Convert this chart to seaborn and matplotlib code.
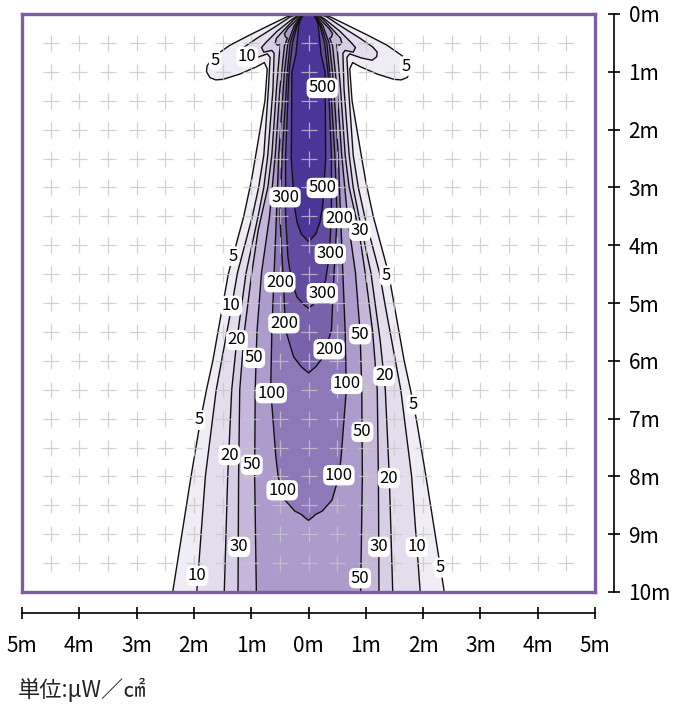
import numpy as np
import matplotlib
matplotlib.use('Agg')
import matplotlib.pyplot as plt
import seaborn as sns

# niveles de irradiancia (uW/cm2) y su color de relleno
levels = [5, 10, 20, 30, 50, 100, 200, 300, 500]
fill_colors = ['#efecf5', '#e3ddee', '#d8cfe6', '#c5b6da', '#ad9bcb',
               '#8e78b7', '#7a62ab', '#634ba0', '#4b3596']

# mitad derecha de cada isolinea: profundidad (m) y distancia al centro (m)
depth_5 = [0.0, 0.05, 0.16, 0.36, 0.54, 0.74, 0.90, 1.00, 1.10, 1.14, 1.13, 1.04, 0.91, 0.84, 0.95,
           1.5, 2.44, 2.9, 3.5, 4.2, 4.5, 5.0, 6.0, 6.5, 7.0, 8.0, 9.0, 10.0]
dist_5 = [0.22, 0.38, 0.61, 1.02, 1.37, 1.66, 1.77, 1.78, 1.72, 1.62, 1.49, 1.20, 0.90, 0.77, 0.72,
          0.76, 0.92, 1.00, 1.13, 1.32, 1.40, 1.49, 1.67, 1.78, 1.88, 2.05, 2.21, 2.37]

depth_10 = [0.0, 0.05, 0.22, 0.42, 0.57, 0.66, 0.74, 0.80, 0.76, 0.69, 0.75,
            1.3, 2.44, 3.0, 3.5, 4.48, 5.05, 6.5, 8.0, 9.2, 10.0]
dist_10 = [0.18, 0.32, 0.58, 0.90, 1.12, 1.20, 1.19, 1.11, 0.92, 0.72, 0.67,
           0.70, 0.78, 0.87, 0.98, 1.24, 1.34, 1.61, 1.80, 1.89, 1.95]

depth_20 = [0.0, 0.1, 0.3, 0.5, 0.58, 0.66, 0.63, 0.68,
            1.3, 2.44, 3.0, 3.5, 4.48, 5.64, 6.5, 8.0, 10.0]
dist_20 = [0.15, 0.30, 0.55, 0.75, 0.82, 0.78, 0.64, 0.60,
           0.62, 0.71, 0.78, 0.88, 1.09, 1.25, 1.34, 1.41, 1.47]

depth_30 = [0.0, 0.1, 0.3, 0.42, 0.50, 0.54, 0.52, 0.60,
            1.3, 2.44, 3.0, 3.75, 4.48, 5.5, 6.5, 8.0, 10.0]
dist_30 = [0.13, 0.26, 0.45, 0.56, 0.58, 0.54, 0.49, 0.50,
           0.56, 0.64, 0.71, 0.88, 0.99, 1.12, 1.20, 1.22, 1.23]

depth_50 = [0.0, 0.1, 0.25, 0.34, 0.40, 0.42, 0.55,
            1.3, 2.44, 3.5, 4.48, 5.5, 6.5, 8.0, 10.0]
dist_50 = [0.11, 0.21, 0.36, 0.42, 0.40, 0.37, 0.42,
           0.50, 0.58, 0.68, 0.82, 0.90, 0.93, 0.94, 0.91]

depth_100 = [0.0, 0.2, 0.5, 1.0, 2.44, 3.5, 4.48, 5.5, 6.5, 7.66, 8.0, 8.41, 8.6, 8.66, 8.70, 8.76]
dist_100 = [0.10, 0.25, 0.36, 0.42, 0.52, 0.56, 0.60, 0.64, 0.66, 0.57, 0.53, 0.41, 0.24, 0.12, 0.08, 0.0]

depth_200 = [0.0, 0.2, 0.5, 1.0, 2.44, 3.5, 4.6, 5.47, 5.93, 6.1, 6.21]
dist_200 = [0.09, 0.22, 0.32, 0.37, 0.46, 0.50, 0.44, 0.40, 0.26, 0.13, 0.0]

depth_300 = [0.0, 0.2, 0.5, 1.0, 2.44, 3.5, 4.2, 4.6, 4.9, 5.03, 5.09]
dist_300 = [0.08, 0.20, 0.28, 0.34, 0.40, 0.40, 0.36, 0.30, 0.20, 0.08, 0.0]

depth_500 = [0.0, 0.05, 0.2, 0.7, 1.0, 2.5, 3.3, 3.6, 3.8, 3.94]
dist_500 = [0.06, 0.13, 0.17, 0.22, 0.29, 0.30, 0.25, 0.20, 0.13, 0.0]

# etiquetas de las isolineas: (x, profundidad, texto)
label_x = [-1.63, -1.07, 1.70, 0.24, -0.41, 0.24, 0.53, 0.90, 0.38, -1.32, 1.35, -0.50, 0.24,
           -1.35, -0.43, 0.90, -1.25, 0.36, -0.95, 1.32, 0.67, -0.65, 1.82, -1.91, 0.94,
           -1.38, -0.99, 0.53, 1.40, -0.46, -1.21, 1.23, 1.89, 2.29, -1.94, 0.90]
label_y = [0.80, 0.74, 0.90, 1.28, 3.17, 3.01, 3.53, 3.75, 4.15, 4.19, 4.53, 4.64, 4.83,
           5.05, 5.35, 5.54, 5.64, 5.80, 5.95, 6.26, 6.40, 6.56, 6.76, 7.02, 7.23,
           7.63, 7.80, 7.98, 8.03, 8.24, 9.22, 9.22, 9.22, 9.58, 9.72, 9.76]
label_txt = ['5', '10', '5', '500', '300', '500', '200', '30', '300', '5', '5', '200', '300',
             '10', '200', '50', '20', '200', '50', '20', '100', '100', '5', '5', '50',
             '20', '50', '100', '20', '100', '30', '30', '10', '5', '10', '50']

outlines = {5: (depth_5, dist_5), 10: (depth_10, dist_10), 20: (depth_20, dist_20),
            30: (depth_30, dist_30), 50: (depth_50, dist_50), 100: (depth_100, dist_100),
            200: (depth_200, dist_200), 300: (depth_300, dist_300), 500: (depth_500, dist_500)}

sns.set_theme(style='white')
plt.rcParams['font.family'] = ['Noto Sans CJK JP', 'DejaVu Sans']

fig = plt.figure(figsize=(6.75, 7.07), dpi=100)
ax = fig.add_axes([22 / 675, 1 - 592 / 707, 573 / 675, 578 / 707])

### rellenos y lineas de cada nivel (simetricos respecto al centro)
for lev, col in zip(levels, fill_colors):
    d, w = outlines[lev]
    d = np.array(d)
    w = np.array(w)
    xs = np.concatenate([w, -w[::-1]])
    ys = np.concatenate([d, d[::-1]])
    ax.fill(xs, ys, color=col, lw=0, zorder=1)
    ax.plot(xs, ys, color='#111111', lw=1.0, zorder=2)

### rejilla de cruces cada 0.5 m
gx, gy = np.meshgrid(np.arange(-4.5, 4.51, 0.5), np.arange(0.5, 9.51, 0.5))
sns.scatterplot(x=gx.ravel(), y=gy.ravel(), marker='+', s=120, color='#c8c8c8',
                linewidth=0.9, alpha=0.8, ax=ax, zorder=3, legend=False)

for x, y, t in zip(label_x, label_y, label_txt):
    ax.text(x, y, t, ha='center', va='center', fontsize=12, color='black', zorder=5,
            bbox=dict(boxstyle='round,pad=0.1,rounding_size=0.35', fc='white', ec='none'))

ax.set_xlim(-5, 5)
ax.set_ylim(10, 0)
ax.set_xticks([])
ax.set_yticks([])
for s in ax.spines.values():
    s.set_color('#7e5ca6')
    s.set_linewidth(2.4)
    s.set_zorder(6)

### reglas exteriores
xt = list(range(-5, 6))
rx = ax.secondary_xaxis(-21 / 578)
rx.set_xticks(xt, labels=[f'{abs(t)}m' for t in xt])
rx.tick_params(direction='inout', length=9, width=1.2, pad=11, labelsize=15, colors='black')
rx.spines['bottom'].set_linewidth(1.2)
rx.spines['bottom'].set_color('black')

yt = list(range(0, 11))
ry = ax.secondary_yaxis(1 + 19 / 573)
ry.set_yticks(yt, labels=[f'{t}m' for t in yt])
ry.tick_params(direction='inout', length=9, width=1.2, pad=6, labelsize=15, colors='black')
ry.spines['right'].set_linewidth(1.2)
ry.spines['right'].set_color('black')

fig.text(18 / 675, 1 - 690 / 707, '単位:μW／㎠', fontsize=16, ha='left', va='center')

fig.savefig('out.png', dpi=100)
